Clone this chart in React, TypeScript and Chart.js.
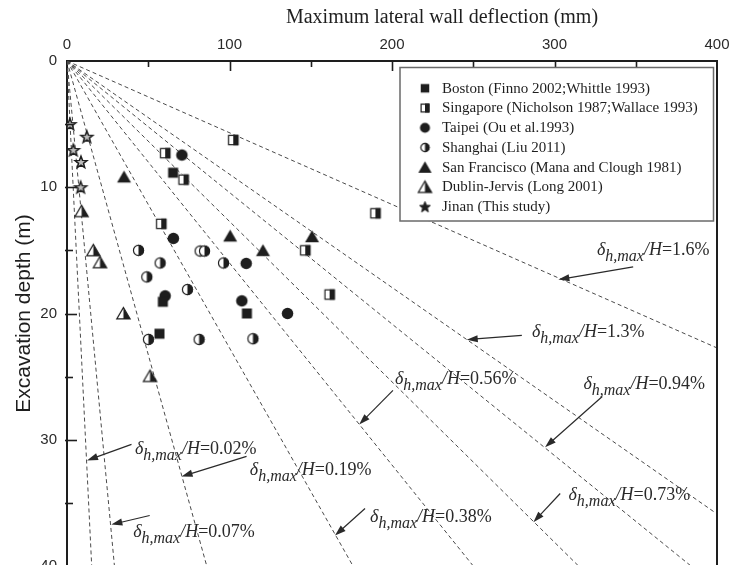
import React, { useEffect, useRef } from 'react';
import { Chart, registerables } from 'chart.js';

Chart.register(...registerables);

// ---- data (deflection δ in mm, depth H in m) ----
const seriesNames = [
  'Boston (Finno 2002;Whittle 1993)',
  'Singapore (Nicholson 1987;Wallace 1993)',
  'Taipei (Ou et al.1993)',
  'Shanghai (Liu 2011)',
  'San Francisco (Mana and Clough 1981)',
  'Dublin-Jervis (Long 2001)',
  'Jinan (This study)',
];
const seriesMarkers = ['square', 'halfSquare', 'circle', 'halfCircle', 'triangle', 'halfTriangle', 'star'];

const boston = [[65.3, 8.85], [59, 19.07], [56.9, 21.6], [110.7, 20]];
const singapore = [[102.3, 6.26], [60.4, 7.3], [71.7, 9.4], [58, 12.9], [146.6, 15], [161.6, 18.5], [189.8, 12.06]];
const taipei = [[70.7, 7.45], [65.5, 14.05], [110.3, 16.03], [60.4, 18.6], [107.6, 19], [135.7, 20]];
const shanghai = [[44, 15], [81.9, 15.05], [84.6, 15.05], [57.3, 16], [96.3, 16], [49.1, 17.1], [74.1, 18.1], [50.1, 22.05], [81.3, 22.05], [114.4, 22]];
const sanFrancisco = [[35.1, 9.17], [100.4, 13.85], [150.8, 13.9], [120.6, 15]];
const dublin = [[9.0, 11.9], [16.2, 15], [20.3, 15.95], [34.7, 20], [51.1, 24.96]];
const jinan = [[1.8, 5.0], [12.2, 6.0], [3.9, 7.05], [8.6, 8.0], [8.4, 10.0]];
const seriesData = [boston, singapore, taipei, shanghai, sanFrancisco, dublin, jinan];

// reference lines δh,max/H (in %), as drawn
const ratioLines = [0.038, 0.073, 0.215, 0.44, 0.625, 0.787, 0.96, 1.115, 1.76];

// annotation labels
const ratioLabels = ['1.6%', '1.3%', '0.56%', '0.94%', '0.73%', '0.38%', '0.02%', '0.19%', '0.07%'];
const labelAnchors = [[326.1, 15.38], [286.1, 21.86], [201.8, 25.56], [317.8, 25.96], [308.6, 34.81], [186.5, 36.53], [41.8, 31.09], [112.5, 32.83], [40.7, 37.72]];
const arrowTails = [[348.4, 16.31], [279.9, 21.73], [200.6, 26.09], [329.4, 26.57], [303.5, 34.26], [183.4, 35.45], [39.7, 30.37], [110.5, 31.32], [50.9, 36.0]];
const arrowHeads = [[302.4, 17.31], [246, 22.07], [179.8, 28.79], [294.2, 30.59], [287, 36.53], [164.9, 37.59], [12.3, 31.64], [70.5, 32.91], [27.3, 36.72]];

// axes
const xMin = 0, xMax = 400, xStep = 100, xMinorStep = 50;
const yMin = 0, yMax = 40, yStep = 10, yMinorStep = 5;
const xTitle = 'Maximum lateral wall deflection (mm)';
const yTitle = 'Excavation depth (m)';

const INK = '#1e1e1e';
const SERIF = '"Liberation Serif", "Times New Roman", serif';
const SANS = '"Liberation Sans", Arial, sans-serif';

function makeMarker(kind: string, s: number, legend = false): HTMLCanvasElement {
  const c = document.createElement('canvas');
  const w = Math.ceil(s + 5);
  c.width = w;
  c.height = w;
  const g = c.getContext('2d')!;
  const cx = w / 2, cy = w / 2, r = s / 2;
  g.lineWidth = 1.2;
  g.strokeStyle = INK;
  g.fillStyle = INK;
  const tri = () => {
    const hw = s * 0.58;
    g.beginPath();
    g.moveTo(cx, cy - r * 1.05);
    g.lineTo(cx + hw, cy + r * 0.95);
    g.lineTo(cx - hw, cy + r * 0.95);
    g.closePath();
  };
  switch (kind) {
    case 'square':
      g.fillRect(cx - r, cy - r, s, s);
      break;
    case 'halfSquare':
      g.fillStyle = '#fff';
      g.fillRect(cx - r, cy - r, s, s);
      g.fillStyle = INK;
      g.fillRect(cx, cy - r, r, s);
      g.strokeRect(cx - r + 0.6, cy - r + 0.6, s - 1.2, s - 1.2);
      break;
    case 'circle':
      g.beginPath();
      g.arc(cx, cy, r, 0, Math.PI * 2);
      g.fill();
      break;
    case 'halfCircle':
      g.fillStyle = '#fff';
      g.beginPath();
      g.arc(cx, cy, r, 0, Math.PI * 2);
      g.fill();
      g.fillStyle = INK;
      g.beginPath();
      g.moveTo(cx, cy - r);
      g.arc(cx, cy, r, -Math.PI / 2, Math.PI / 2);
      g.closePath();
      g.fill();
      g.beginPath();
      g.arc(cx, cy, r - 0.6, 0, Math.PI * 2);
      g.stroke();
      break;
    case 'triangle':
      tri();
      g.fill();
      break;
    case 'halfTriangle': {
      tri();
      g.fillStyle = '#fff';
      g.fill();
      g.fillStyle = INK;
      const hw = s * 0.58;
      g.beginPath();
      g.moveTo(cx, cy - r * 1.05);
      g.lineTo(cx + hw, cy + r * 0.95);
      g.lineTo(cx, cy + r * 0.95);
      g.closePath();
      g.fill();
      tri();
      g.stroke();
      break;
    }
    case 'star': {
      g.beginPath();
      for (let i = 0; i < 10; i++) {
        const rr = i % 2 === 0 ? r : r * 0.42;
        const a = -Math.PI / 2 + (i * Math.PI) / 5;
        const px = cx + rr * Math.cos(a), py = cy + rr * Math.sin(a) + r * 0.08;
        if (i === 0) g.moveTo(px, py); else g.lineTo(px, py);
      }
      g.closePath();
      g.fillStyle = legend ? INK : '#bdbdbd';
      g.fill();
      g.lineWidth = legend ? 1 : 1.5;
      g.stroke();
      break;
    }
  }
  return c;
}

const dataSizes: Record<string, number> = { square: 10, halfSquare: 10.5, circle: 11.5, halfCircle: 11.3, triangle: 12, halfTriangle: 11.5, star: 12.5 };
const legendSizes: Record<string, number> = { square: 8.5, halfSquare: 9, circle: 10, halfCircle: 9.5, triangle: 11.5, halfTriangle: 11.5, star: 11.5 };

function drawArrow(ctx: CanvasRenderingContext2D, x1: number, y1: number, x2: number, y2: number) {
  const ang = Math.atan2(y2 - y1, x2 - x1);
  const L = 11, W = 3.6;
  const c = Math.cos(ang), s = Math.sin(ang);
  const bx = x2 - L * c, by = y2 - L * s;
  ctx.beginPath();
  ctx.moveTo(x1, y1);
  ctx.lineTo(bx + 2 * c, by + 2 * s);
  ctx.stroke();
  ctx.beginPath();
  ctx.moveTo(x2, y2);
  ctx.lineTo(bx + W * s, by - W * c);
  ctx.lineTo(bx - W * s, by + W * c);
  ctx.closePath();
  ctx.fill();
}

function drawRatioLabel(ctx: CanvasRenderingContext2D, x: number, y: number, value: string) {
  let cx = x;
  ctx.textBaseline = 'alphabetic';
  ctx.textAlign = 'left';
  ctx.font = `italic 18px ${SERIF}`;
  ctx.fillText('δ', cx, y);
  cx += ctx.measureText('δ').width;
  ctx.font = `italic 16px ${SERIF}`;
  ctx.fillText('h,max', cx, y + 6);
  cx += ctx.measureText('h,max').width;
  ctx.font = `italic 18px ${SERIF}`;
  ctx.fillText('/H', cx, y);
  cx += ctx.measureText('/H').width;
  ctx.font = `18px ${SERIF}`;
  ctx.fillText('=' + value, cx, y);
}

export default function App() {
  const ref = useRef<HTMLCanvasElement>(null);

  useEffect(() => {
    if (!ref.current) return;
    const dataMarkers = seriesMarkers.map((k) => makeMarker(k, dataSizes[k]));
    const legendMarkers = seriesMarkers.map((k) => makeMarker(k, legendSizes[k], true));

    const overlay = {
      id: 'overlay',
      afterDraw(chart: any) {
        const { ctx, chartArea: a, scales } = chart;
        const xs = scales.x, ys = scales.y;
        ctx.save();
        ctx.strokeStyle = INK;
        ctx.fillStyle = INK;
        // right frame
        ctx.lineWidth = 2;
        ctx.beginPath();
        ctx.moveTo(a.right, a.top - 1);
        ctx.lineTo(a.right, a.bottom + 40);
        ctx.stroke();
        // inward ticks
        ctx.lineWidth = 1.6;
        for (let v = xMin; v <= xMax; v += xMinorStep) {
          const px = Math.round(xs.getPixelForValue(v)) + 0.5;
          const len = v % xStep === 0 ? 10 : 6;
          if (v === xMin || v === xMax) continue;
          ctx.beginPath();
          ctx.moveTo(px, a.top);
          ctx.lineTo(px, a.top + len);
          ctx.stroke();
        }
        for (let v = yMin; v <= yMax; v += yMinorStep) {
          const py = Math.round(ys.getPixelForValue(v)) + 0.5;
          const len = v % yStep === 0 ? 10 : 6;
          if (v === yMin) continue;
          ctx.beginPath();
          ctx.moveTo(a.left - 2, py);
          ctx.lineTo(a.left + len, py);
          ctx.stroke();
        }
        // x title
        ctx.font = `20px ${SERIF}`;
        ctx.textAlign = 'center';
        ctx.textBaseline = 'middle';
        ctx.fillStyle = INK;
        ctx.fillText(xTitle, (a.left + a.right) / 2 + 50, 18);

        // annotations
        ctx.fillStyle = '#2a2a2a';
        ctx.strokeStyle = '#2a2a2a';
        ctx.lineWidth = 1.2;
        ratioLabels.forEach((lab, i) => {
          const tx = xs.getPixelForValue(labelAnchors[i][0]);
          const ty = ys.getPixelForValue(labelAnchors[i][1]);
          drawRatioLabel(ctx, tx, ty, lab);
          drawArrow(
            ctx,
            xs.getPixelForValue(arrowTails[i][0]),
            ys.getPixelForValue(arrowTails[i][1]),
            xs.getPixelForValue(arrowHeads[i][0]),
            ys.getPixelForValue(arrowHeads[i][1])
          );
        });

        // legend
        const lx = a.left + 333, ly = a.top + 6.5, lw = 313.5, lh = 153.5;
        ctx.fillStyle = '#fff';
        ctx.fillRect(lx, ly, lw, lh);
        ctx.strokeStyle = '#6a6a6a';
        ctx.lineWidth = 1.5;
        ctx.strokeRect(lx, ly, lw, lh);
        ctx.font = `15px ${SERIF}`;
        ctx.textAlign = 'left';
        ctx.textBaseline = 'middle';
        ctx.fillStyle = INK;
        seriesNames.forEach((name, i) => {
          const cy = ly + 20.8 + i * 19.75;
          const m = legendMarkers[i];
          ctx.drawImage(m, lx + 25 - m.width / 2, cy - m.height / 2);
          ctx.fillText(name, lx + 42, cy + 0.5);
        });
        ctx.restore();
      },
    };

    const scatterSets = seriesData.map((arr, i) => ({
      label: seriesNames[i],
      data: arr.map(([x, y]) => ({ x, y })),
      pointStyle: dataMarkers[i],
      pointRadius: 7,
      showLine: false,
      order: 0,
    }));
    const lineSets = ratioLines.map((r) => ({
      label: `ratio ${r}`,
      data: [
        { x: 0, y: 0 },
        { x: r * 10 * yMax, y: yMax },
      ],
      showLine: true,
      pointRadius: 0,
      borderColor: '#4a4a4a',
      borderWidth: 1,
      borderDash: [4, 3],
      order: 1,
    }));

    const chart = new Chart(ref.current, {
      type: 'scatter',
      data: { datasets: [...scatterSets, ...lineSets] as any },
      options: {
        responsive: false,
        animation: false,
        events: [],
        layout: { padding: { left: 0, right: 22, top: 0, bottom: 34 } },
        plugins: { legend: { display: false }, tooltip: { enabled: false } },
        scales: {
          x: {
            type: 'linear',
            position: 'top',
            min: xMin,
            max: xMax,
            ticks: { stepSize: xStep, padding: 7, color: '#2a2a2a', font: { family: SANS, size: 15 } },
            grid: { display: false, drawTicks: false },
            border: { display: true, color: INK, width: 2 },
            afterFit: (scale: any) => {
              scale.height = 61;
            },
          },
          y: {
            type: 'linear',
            reverse: true,
            min: yMin,
            max: yMax,
            ticks: { stepSize: yStep, padding: 10, color: '#2a2a2a', font: { family: SANS, size: 15 } },
            grid: { display: false, drawTicks: false },
            border: { display: true, color: INK, width: 2 },
            title: {
              display: true,
              text: yTitle,
              color: INK,
              font: { family: SANS, size: 21 },
              padding: { top: 12, bottom: 0 },
            },
            afterFit: (scale: any) => {
              scale.width = 67;
            },
          },
        },
      },
      plugins: [overlay],
    });
    return () => chart.destroy();
  }, []);

  return (
    <div style={{ position: 'absolute', left: 0, top: 0, width: 739, height: 565, overflow: 'hidden', background: '#fff' }}>
      <canvas ref={ref} width={739} height={600} style={{ display: 'block' }} />
    </div>
  );
}
